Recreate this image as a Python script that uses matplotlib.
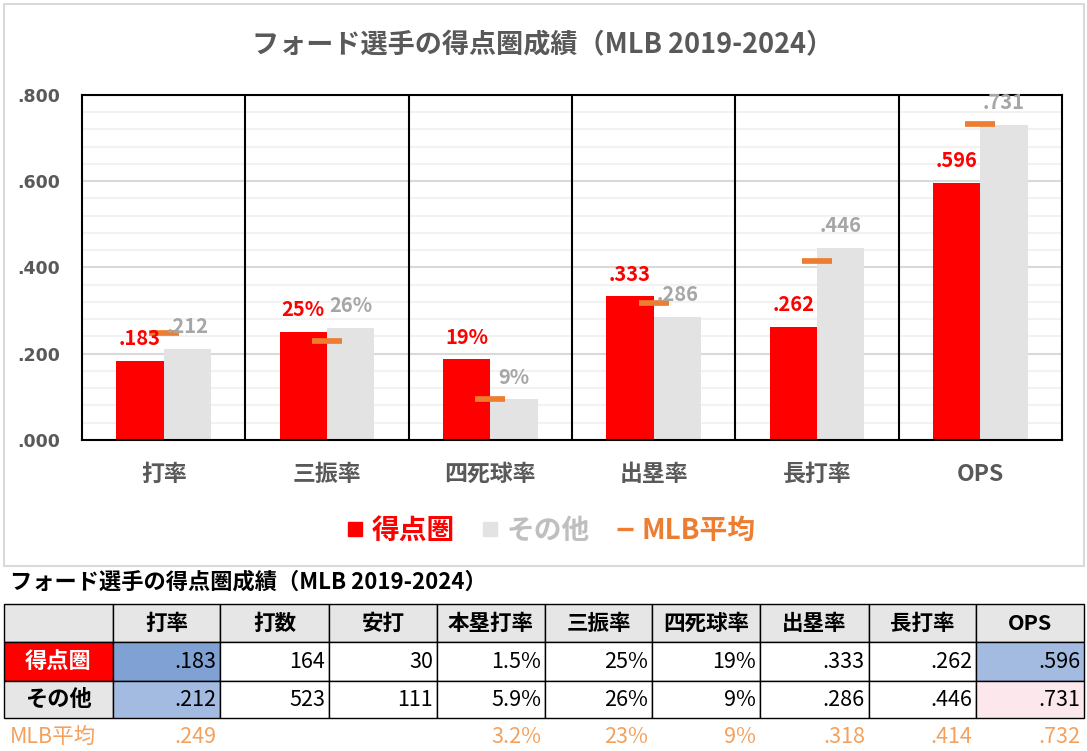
import numpy as np
import matplotlib
matplotlib.use('Agg')
import matplotlib.pyplot as plt
from matplotlib.patches import Rectangle
from matplotlib.lines import Line2D

plt.rcParams['font.family'] = ['Noto Sans CJK JP', 'DejaVu Sans']

# ---- データ ----
title = 'フォード選手の得点圏成績（MLB 2019-2024）'
categories = ['打率', '三振率', '四死球率', '出塁率', '長打率', 'OPS']
is_pct = [False, True, True, False, False, False]
risp = [0.183, 0.25, 0.187, 0.333, 0.262, 0.596]      # 得点圏
others = [0.212, 0.26, 0.094, 0.286, 0.446, 0.731]    # その他
mlb_avg = [0.249, 0.23, 0.094, 0.318, 0.414, 0.732]   # MLB平均
legend_labels = ['得点圏', 'その他', 'MLB平均']

table_cols = ['打率', '打数', '安打', '本塁打率', '三振率', '四死球率', '出塁率', '長打率', 'OPS']
table_rows = ['得点圏', 'その他']
table_risp = ['.183', '164', '30', '1.5%', '25%', '19%', '.333', '.262', '.596']
table_other = ['.212', '523', '111', '5.9%', '26%', '9%', '.286', '.446', '.731']
table_mlb = ['.249', '', '', '3.2%', '23%', '9%', '.318', '.414', '.732']

RED = '#FF0000'
GRAY = '#E3E3E3'
GRAY_TXT = '#A6A6A6'
ORANGE = '#ED7D31'
DARK = '#595959'


def fmt(v, pct):
    if pct:
        return f'{v:.0%}'
    return f'{v:.3f}'.lstrip('0')


fig = plt.figure(figsize=(10.87, 7.51), dpi=100)

# 背景用の軸（ピクセル座標）
bg = fig.add_axes([0, 0, 1, 1])
bg.set_xlim(0, 1087)
bg.set_ylim(751, 0)
bg.axis('off')
bg.add_patch(Rectangle((4, 4), 1080, 562, fill=False, ec='#D9D9D9', lw=1.5))
bg.text(543, 45, title, ha='center', va='center', fontsize=19.5,
        fontweight='bold', color=DARK)

# ---- グラフ ----
ax = fig.add_axes([82 / 1087, 1 - 440 / 751, 980 / 1087, 345 / 751])
ax.set_axisbelow(True)
x = np.arange(len(categories))
w = 0.29
ax.bar(x - w / 2, risp, w, color=RED, zorder=2)
ax.bar(x + w / 2, others, w, color=GRAY, zorder=2)
ax.hlines(mlb_avg, x - 0.092, x + 0.092, color=ORANGE, lw=4.1, zorder=3)

ax.set_xlim(-0.5, len(categories) - 0.5)
ax.set_ylim(0, 0.8)
yt = np.arange(0, 0.81, 0.2)
ax.set_yticks(yt)
ax.set_yticklabels([fmt(v, False) for v in yt])
ax.set_yticks(np.arange(0, 0.8, 0.04), minor=True)
ax.grid(axis='y', which='minor', color='#F2F2F2', lw=1.5)
ax.grid(axis='y', which='major', color='#D9D9D9', lw=1.5)
for b in x[:-1] + 0.5:
    ax.axvline(b, color='black', lw=1.5, zorder=2.5)
for s in ax.spines.values():
    s.set_color('black')
    s.set_linewidth(1.5)
ax.set_xticks(x)
ax.set_xticklabels(categories, fontsize=16.5, fontweight='bold')
ax.tick_params(which='both', length=0, labelcolor=DARK)
ax.tick_params(axis='x', pad=16.5)
ax.tick_params(axis='y', pad=16)
for lbl in ax.get_yticklabels():
    lbl.set_fontfamily('DejaVu Sans')
    lbl.set_fontweight('bold')
    lbl.set_fontsize(12.5)

for i in x:
    ax.annotate(fmt(risp[i], is_pct[i]), (i - w / 2, risp[i]), xytext=(0, 16),
                textcoords='offset points', ha='center', va='center',
                color=RED, fontsize=14.5, fontweight='bold', zorder=4)
    ax.annotate(fmt(others[i], is_pct[i]), (i + w / 2, others[i]), xytext=(0, 16),
                textcoords='offset points', ha='center', va='center',
                color=GRAY_TXT, fontsize=14.5, fontweight='bold', zorder=4)

handles = [Line2D([], [], ls='none', marker='s', ms=10, color=RED),
           Line2D([], [], ls='none', marker='s', ms=10, color=GRAY),
           Line2D([], [], ls='none', marker='_', ms=11.5, mew=2.4, color=ORANGE)]
fig.legend(handles, legend_labels, loc='center', bbox_to_anchor=(0.507, 0.293),
           ncol=3, frameon=False, prop={'size': 20, 'weight': 'bold'},
           labelcolor=[RED, '#BFBFBF', ORANGE], handlelength=0.6,
           handletextpad=0.3, columnspacing=0.95)

# ---- 表 ----
bg.text(10, 582, title, ha='left', va='center', fontsize=16,
        fontweight='bold', color='black')
col_edges = [4, 113, 220, 329, 437, 545, 652, 760, 869, 976, 1084]
row_edges = [604, 642, 681, 718]
fills = [['#E7E6E6'] * 10,
         [RED, '#7FA1D3'] + ['white'] * 7 + ['#A3BBE0'],
         ['#E7E6E6', '#A3BBE0'] + ['white'] * 7 + ['#FCE8EC']]
for r in range(3):
    for c in range(10):
        bg.add_patch(Rectangle((col_edges[c], row_edges[r]),
                               col_edges[c + 1] - col_edges[c],
                               row_edges[r + 1] - row_edges[r],
                               fc=fills[r][c], ec='black', lw=1))

def row_y(r):
    return (row_edges[r] + row_edges[r + 1]) / 2

for c, name in enumerate(table_cols):
    bg.text((col_edges[c + 1] + col_edges[c + 2]) / 2, row_y(0), name,
            ha='center', va='center', fontsize=15.5, fontweight='bold')
for r, (name, vals) in enumerate(zip(table_rows, [table_risp, table_other])):
    bg.text((col_edges[0] + col_edges[1]) / 2, row_y(r + 1), name,
            ha='center', va='center', fontsize=16, fontweight='bold',
            color='white' if r == 0 else 'black')
    for c, v in enumerate(vals):
        bg.text(col_edges[c + 2] - 4, row_y(r + 1), v, ha='right',
                va='center', fontsize=15.5)

MLB_TXT = '#F4A15D'
bg.text(10, 737, 'MLB平均', ha='left', va='center', fontsize=15.5, color=MLB_TXT)
for c, v in enumerate(table_mlb):
    bg.text(col_edges[c + 2] - 4, 737, v, ha='right', va='center',
            fontsize=15.5, color=MLB_TXT)

fig.savefig('out.png', dpi=100)
